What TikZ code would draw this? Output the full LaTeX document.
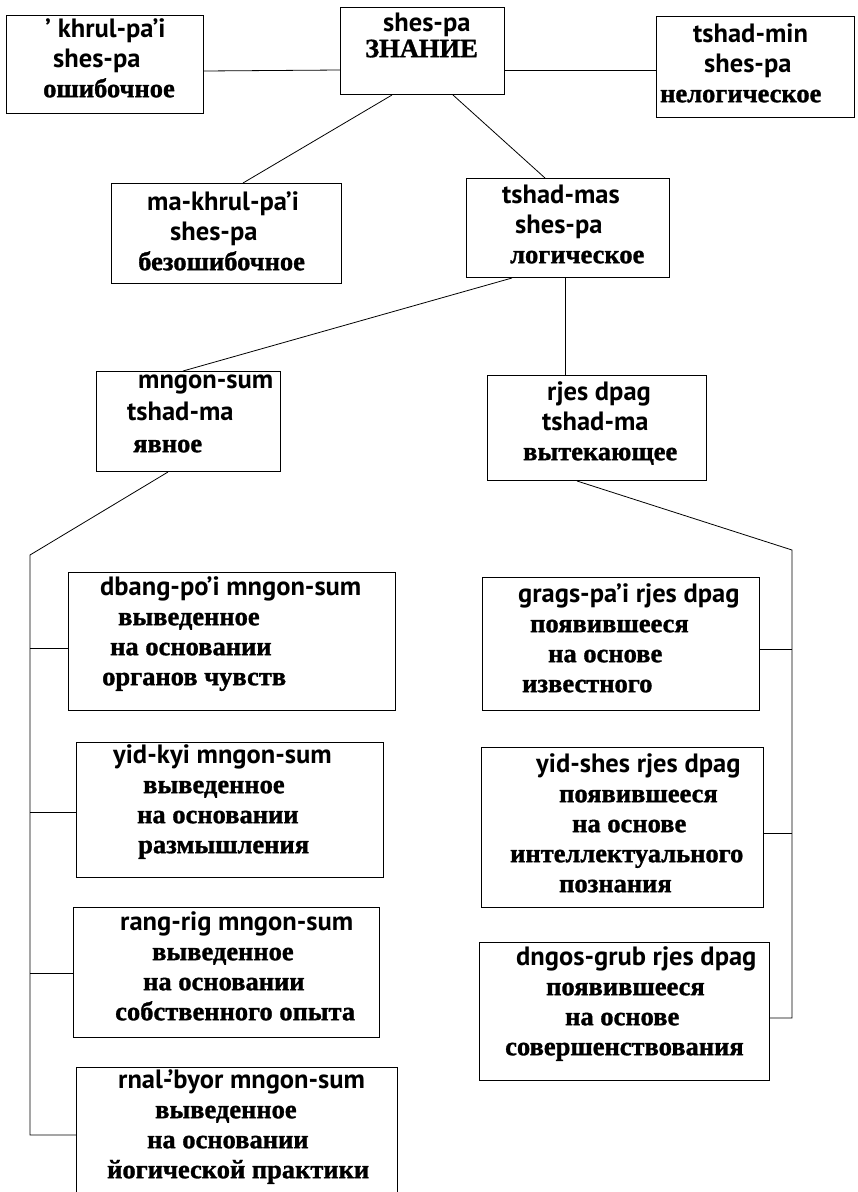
\documentclass[tikz,border=0pt]{standalone}
\usepackage{fontspec}
\setmainfont{Liberation Serif}[BoldFeatures={FakeBold=1.2}]
\newfontfamily\latfont{PT Sans}
\usetikzlibrary{calc}

% one line of a box: left indent, then the text
\newcommand\Lt[2]{\hspace*{#1pt}{\latfont\fontsize{26.5}{30}\selectfont #2}}
\newcommand\Cy[2]{\hspace*{#1pt}#2}
% framed box with its text block: name, x, y, width, height, first baseline, lines
\newcommand\tbox[7]{%
  \node[frame, minimum width=#4pt, minimum height=#5pt] (#1) at (#2,#3) {};
  \node[boxtext] (#1t) at (#1.north west) {\rule{0pt}{#6pt}#7};}

\tikzset{
  frame/.style={draw, line width=1pt, rectangle, inner sep=0pt, anchor=north west},
  boxtext/.style={inner sep=0pt, anchor=north west, align=left,
    font=\fontsize{26.5}{30}\selectfont\bfseries},
  link/.style={line width=0.8pt},
}

\begin{document}
\begin{tikzpicture}[x=1pt,y=-1pt]
\useasboundingbox (0,0) rectangle (858,1192);
\fill[white] (0,0) rectangle (858,1192);
\clip (0,0) rectangle (858,1192);

% top level
\tbox{A}{6}{15}{197}{98}{22}{\Lt{39}{’ khrul-pa’i}\\\Lt{47}{shes-pa}\\\Cy{37}{ошибочное}}
\tbox{Z}{340}{7}{164}{87}{24}{\Lt{43}{shes-pa}\\[-4pt]\Cy{25}{ЗНАНИЕ}}
\tbox{R}{656}{16}{198}{101}{26}{\Lt{37}{tshad-min}\\\Lt{48}{shes-pa}\\\Cy{4}{нелогическое}}

% second level
\tbox{M}{111}{183}{230}{100}{27}{\Lt{36}{ma-khrul-pa’i}\\\Lt{59}{shes-pa}\\\Cy{27}{безошибочное}}
\tbox{T}{466}{178}{203}{99}{25}{\Lt{36}{tshad-mas}\\\Lt{49}{shes-pa}\\\Cy{44}{логическое}}

% third level
\tbox{N}{96}{371}{184}{100}{17}{\Lt{42}{mngon-sum}\\[2pt]\Lt{31}{tshad-ma}\\[2pt]\Cy{37}{явное}}
\tbox{J}{487}{375}{219}{105}{25}{\Lt{60}{rjes dpag}\\\Lt{55}{tshad-ma}\\\Cy{36}{вытекающее}}

% kinds of direct knowledge
\tbox{D1}{68}{572}{327}{138}{23}{\Lt{32}{dbang-po’i mngon-sum}\\\Cy{50}{выведенное}\\\Cy{42}{на основании}\\\Cy{34}{органов чувств}}
\tbox{D2}{76}{742}{307}{135}{21}{\Lt{37}{yid-kyi mngon-sum}\\\Cy{67}{выведенное}\\\Cy{61}{на основании}\\\Cy{62}{размышления}}
\tbox{D3}{73}{907}{306}{130}{23}{\Lt{47}{rang-rig mngon-sum}\\\Cy{79}{выведенное}\\\Cy{70}{на основании}\\\Cy{42}{собственного опыта}}
\tbox{D4}{76}{1067}{321}{140}{21}{\Lt{42}{rnal-’byor mngon-sum}\\\Cy{79}{выведенное}\\\Cy{71}{на основании}\\\Cy{31}{йогической практики}}

% kinds of inferential knowledge
\tbox{G1}{482}{577}{277}{133}{25}{\Lt{36}{grags-pa’i rjes dpag}\\\Cy{48}{появившееся}\\\Cy{66}{на основе}\\\Cy{40}{известного}}
\tbox{G2}{481}{747}{282}{160}{25}{\Lt{55}{yid-shes rjes dpag}\\\Cy{78}{появившееся}\\\Cy{91}{на основе}\\\Cy{29}{интеллектуального}\\\Cy{78}{познания}}
\tbox{G3}{479}{942}{290}{138}{23}{\Lt{37}{dngos-grub rjes dpag}\\\Cy{67}{появившееся}\\\Cy{86}{на основе}\\\Cy{26}{совершенствования}}

% connectors of the upper levels
\draw[link] ($(A.north east)+(0,56)$) -- ($(Z.north west)+(0,63)$);
\draw[link] ($(Z.north east)+(0,63)$) -- ($(R.north west)+(0,54)$);
\draw[link] ($(Z.south west)+(52,0)$) -- ($(M.north west)+(132,0)$);
\draw[link] ($(Z.south west)+(113,0)$) -- ($(T.north west)+(79,0)$);
\draw[link] ($(T.south west)+(46,0)$) -- ($(N.north west)+(87,0)$);
\draw[link] ($(T.south west)+(99,0)$) -- ($(J.north west)+(78,0)$);

% left trunk with its branches
\coordinate (lt) at (30,555);
\coordinate (lb) at (30,1135);
\coordinate (l1) at (30,648);
\coordinate (l2) at (30,812);
\coordinate (l3) at (30,973);
\draw[link] ($(N.south west)+(72,0)$) -- (lt) -- (lb) -- (lb -| D4.west);
\draw[link] (l1) -- (l1 -| D1.west);
\draw[link] (l2) -- (l2 -| D2.west);
\draw[link] (l3) -- (l3 -| D3.west);

% right trunk with its branches
\coordinate (rt) at (792,550);
\coordinate (rb) at (792,1018);
\coordinate (r1) at (792,649);
\coordinate (r2) at (792,833);
\draw[link] ($(J.south west)+(90,0)$) -- (rt) -- (rb) -- (rb -| G3.east);
\draw[link] (r1) -- (r1 -| G1.east);
\draw[link] (r2) -- (r2 -| G2.east);
\end{tikzpicture}
\end{document}
